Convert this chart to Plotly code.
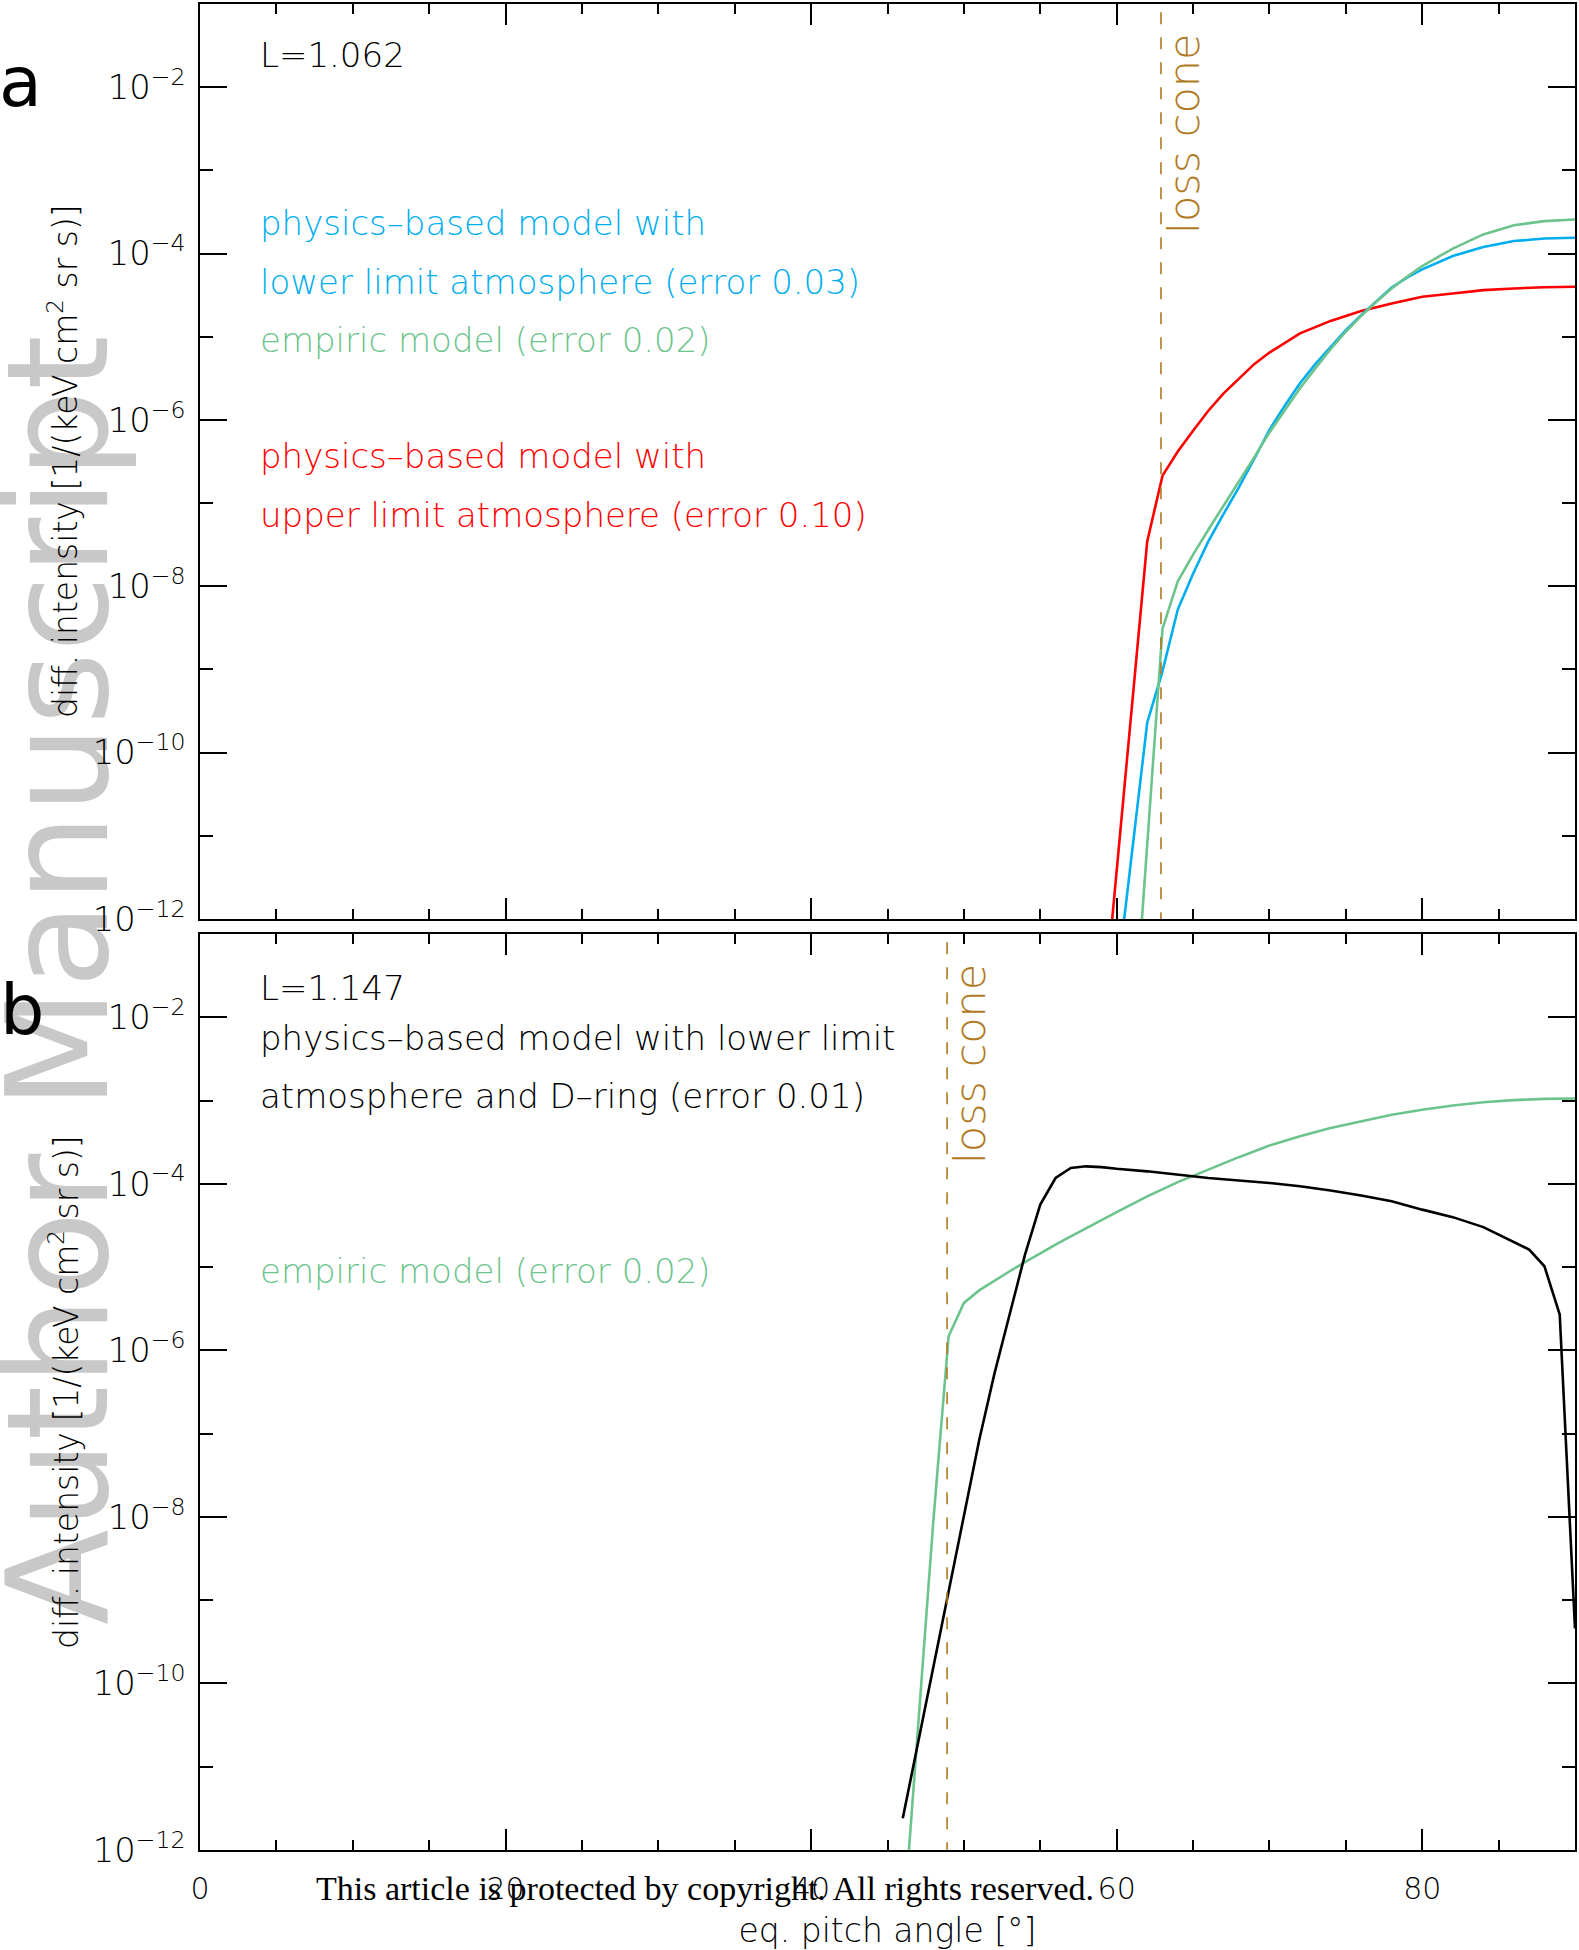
import plotly.graph_objects as go

W, H = 1579, 1950

# ---------------- data (log10 of differential intensity) ----------------
# Panel a, L = 1.062
red_a_angle = [59, 60, 61, 62, 63, 64, 65, 66, 67, 68, 69, 70, 72, 74, 76, 78, 80, 82, 84, 86, 88, 90]
red_a_log = [-13.4, -11.41, -9.43, -7.46, -6.67, -6.38, -6.13, -5.89, -5.68, -5.50, -5.33, -5.19,
             -4.96, -4.81, -4.69, -4.60, -4.52, -4.48, -4.44, -4.42, -4.405, -4.40]

cyan_a_angle = [60, 61, 62, 63, 64, 65, 66, 67, 68, 69, 70, 71, 72, 73, 74, 75, 76, 77, 78, 79, 80,
                82, 84, 86, 88, 90]
cyan_a_log = [-12.77, -11.2, -9.64, -9.02, -8.28, -7.85, -7.46, -7.13, -6.81, -6.47, -6.12, -5.83,
              -5.56, -5.33, -5.12, -4.92, -4.74, -4.57, -4.41, -4.29, -4.19, -4.03, -3.92, -3.85,
              -3.82, -3.81]

green_a_angle = [61, 62, 63, 64, 65, 66, 67, 68, 69, 70, 71, 72, 73, 74, 75, 76, 77, 78, 79, 80,
                 82, 84, 86, 88, 90]
green_a_log = [-13.7, -11.11, -8.51, -7.94, -7.62, -7.32, -7.03, -6.75, -6.45, -6.15, -5.88, -5.62,
               -5.38, -5.15, -4.94, -4.75, -4.58, -4.42, -4.28, -4.15, -3.94, -3.77, -3.66, -3.61,
               -3.59]

loss_cone_a = 62.9

# Panel b, L = 1.147
green_b_angle = [46, 47, 48, 49, 50, 51, 52, 53, 54, 55, 56, 57, 58, 60, 62, 64, 66, 68, 70, 72,
                 74, 76, 78, 80, 82, 84, 86, 88, 90]
green_b_log = [-13.0, -10.5, -8.05, -5.83, -5.43, -5.28, -5.16, -5.05, -4.94, -4.83, -4.73, -4.63,
               -4.53, -4.34, -4.15, -3.98, -3.83, -3.68, -3.54, -3.43, -3.33, -3.25, -3.17, -3.11,
               -3.06, -3.02, -2.995, -2.98, -2.975]

black_b_angle = [46, 47, 48, 49, 50, 51, 52, 53, 54, 55, 56, 57, 58, 59, 60, 62, 64, 66, 68, 70,
                 72, 74, 76, 78, 80, 82, 84, 85, 86, 87, 88, 89, 90]
black_b_log = [-11.62, -10.72, -9.82, -8.90, -7.98, -7.08, -6.28, -5.58, -4.85, -4.25, -3.93, -3.81,
               -3.79, -3.80, -3.82, -3.85, -3.89, -3.93, -3.96, -3.99, -4.03, -4.08, -4.14, -4.21,
               -4.31, -4.40, -4.52, -4.61, -4.70, -4.79, -4.99, -5.57, -9.34]

loss_cone_b = 48.9

x_ticks = [0, 20, 40, 60, 80]

# ---------------- colours ----------------
C_RED = "#FF0000"
C_CYAN = "#00AEEF"
C_GREEN = "#6CC48C"
C_BLACK = "#000000"
C_LOSS = "#B07A22"
FONT = "DejaVu Sans"
WT = 200  # thin strokes like the original vector font

def lin(vals):
    return [10 ** v for v in vals]

fig = go.Figure()

LW = 2.6
# panel a
fig.add_trace(go.Scatter(x=red_a_angle, y=lin(red_a_log), mode="lines",
                         line=dict(color=C_RED, width=LW), xaxis="x", yaxis="y",
                         name="physics-based, upper limit atmosphere"))
fig.add_trace(go.Scatter(x=cyan_a_angle, y=lin(cyan_a_log), mode="lines",
                         line=dict(color=C_CYAN, width=LW), xaxis="x", yaxis="y",
                         name="physics-based, lower limit atmosphere"))
fig.add_trace(go.Scatter(x=green_a_angle, y=lin(green_a_log), mode="lines",
                         line=dict(color=C_GREEN, width=LW), xaxis="x", yaxis="y",
                         name="empiric model"))
fig.add_trace(go.Scatter(x=[loss_cone_a, loss_cone_a], y=[10 ** -1.1, 1e-12], mode="lines",
                         line=dict(color=C_LOSS, width=1.6, dash="12px,13px"),
                         xaxis="x", yaxis="y", name="loss cone"))
# panel b
fig.add_trace(go.Scatter(x=green_b_angle, y=lin(green_b_log), mode="lines",
                         line=dict(color=C_GREEN, width=LW), xaxis="x2", yaxis="y2",
                         name="empiric model"))
fig.add_trace(go.Scatter(x=black_b_angle, y=lin(black_b_log), mode="lines",
                         line=dict(color=C_BLACK, width=LW), xaxis="x2", yaxis="y2",
                         name="physics-based, lower limit + D-ring"))
fig.add_trace(go.Scatter(x=[loss_cone_b, loss_cone_b], y=[10 ** -1.1, 1e-12], mode="lines",
                         line=dict(color=C_LOSS, width=1.6, dash="12px,13px"),
                         xaxis="x2", yaxis="y2", name="loss cone"))

XDOM = [200 / W, 1575 / W]
YDOM_A = [1 - 919 / H, 1 - 4 / H]
YDOM_B = [1 - 1850 / H, 1 - 934 / H]

def xax(anchor, show_labels):
    d = dict(domain=XDOM, range=[0, 90], anchor=anchor, tickmode="array", tickvals=x_ticks,
             ticks="inside", ticklen=21, tickwidth=2, tickcolor="black",
             minor=dict(dtick=5, tick0=0, ticks="inside", ticklen=10, tickwidth=2, tickcolor="black"),
             showline=True, linewidth=2, linecolor="black", mirror="ticks",
             showgrid=False, zeroline=False, showticklabels=show_labels,
             tickfont=dict(family=FONT, size=30, color="black", weight=WT))
    return d

def yax(anchor, dom):
    return dict(domain=dom, type="log", range=[-12, -1], anchor=anchor, dtick=2, tick0=0,
                exponentformat="power", ticks="inside", ticklen=27, tickwidth=2, tickcolor="black",
                minor=dict(dtick=1, ticks="inside", ticklen=13, tickwidth=2, tickcolor="black"),
                showline=True, linewidth=2, linecolor="black", mirror="ticks",
                showgrid=False, zeroline=False, ticklabelstandoff=7,
                tickfont=dict(family=FONT, size=27, color="black", weight=WT))

xa = xax("y", False)
xb = xax("y2", True)
xb["ticklabelstandoff"] = 11
xb["title"] = dict(text="eq. pitch angle [°]",
                   font=dict(family=FONT, size=33, color="black", weight=WT), standoff=20)

fig.update_layout(
    width=W, height=H, template="none",
    margin=dict(l=0, r=0, t=0, b=0), autosize=False,
    paper_bgcolor="white", plot_bgcolor="white", showlegend=False,
    font=dict(family=FONT, color="black"),
    xaxis=xa, yaxis=yax("x", YDOM_A),
    xaxis2=xb, yaxis2=yax("x2", YDOM_B),
)

# watermark (behind everything)
fig.add_shape(type="rect", xref="paper", yref="paper",
              x0=0, x1=96 / W, y0=1 - 1640 / H, y1=1 - 320 / H,
              line=dict(width=0), fillcolor="rgba(0,0,0,0)", layer="below",
              label=dict(text="Author Manuscript", textangle=-90, textposition="middle center",
                         font=dict(family=FONT, size=140, color="#C8C8C8")))

def px_x(px):
    return px / W

def px_y(py):
    return 1 - py / H

def note(text, x, y, color="black", size=34, **kw):
    fig.add_annotation(text=text, xref="paper", yref="paper", x=px_x(x), y=px_y(y),
                       xanchor=kw.pop("xanchor", "left"), yanchor=kw.pop("yanchor", "middle"),
                       showarrow=False,
                       font=dict(family=kw.pop("family", FONT), size=size, color=color,
                                 weight=kw.pop("weight", WT)),
                       **kw)

# panel a texts
note("L=1.062", 258, 55)
note("physics\u2013based model with", 258, 223, C_CYAN)
note("lower limit atmosphere (error 0.03)", 258, 282, C_CYAN)
note("empiric model (error 0.02)", 258, 340, C_GREEN)
note("physics\u2013based model with", 258, 456, C_RED)
note("upper limit atmosphere (error 0.10)", 258, 515, C_RED)

# panel b texts
note("L=1.147", 258, 988)
note("physics\u2013based model with lower limit", 258, 1038)
note("atmosphere and D\u2013ring (error 0.01)", 258, 1096)
note("empiric model (error 0.02)", 258, 1271, C_GREEN)

# loss cone labels
fig.add_annotation(text="loss cone", xref="x", yref="paper", x=loss_cone_a, y=px_y(32),
                   xanchor="left", yanchor="top", textangle=-90, showarrow=False, xshift=-4,
                   font=dict(family=FONT, size=43, color=C_LOSS, weight=WT))
fig.add_annotation(text="loss cone", xref="x2", yref="paper", x=loss_cone_b, y=px_y(962),
                   xanchor="left", yanchor="top", textangle=-90, showarrow=False, xshift=-4,
                   font=dict(family=FONT, size=43, color=C_LOSS, weight=WT))

# y-axis titles
ytitle = "diff. intensity [1/(keV cm<sup>2</sup> sr s)]"
note(ytitle, 64, 461, size=33, xanchor="center", yanchor="middle", textangle=-90)
note(ytitle, 64, 1392, size=33, xanchor="center", yanchor="middle", textangle=-90)

# panel letters
note("a", 20, 82, size=70, xanchor="center", weight="normal")
note("b", 22, 1010, size=70, xanchor="center", weight="normal")

# copyright line
note("This article is protected by copyright. All rights reserved.", 705, 1888, size=34,
     xanchor="center", family="Liberation Serif", weight="normal")

fig.write_html("out.html", config={"displayModeBar": False},
               post_script="document.body.style.margin='0';document.body.style.padding='0';")
